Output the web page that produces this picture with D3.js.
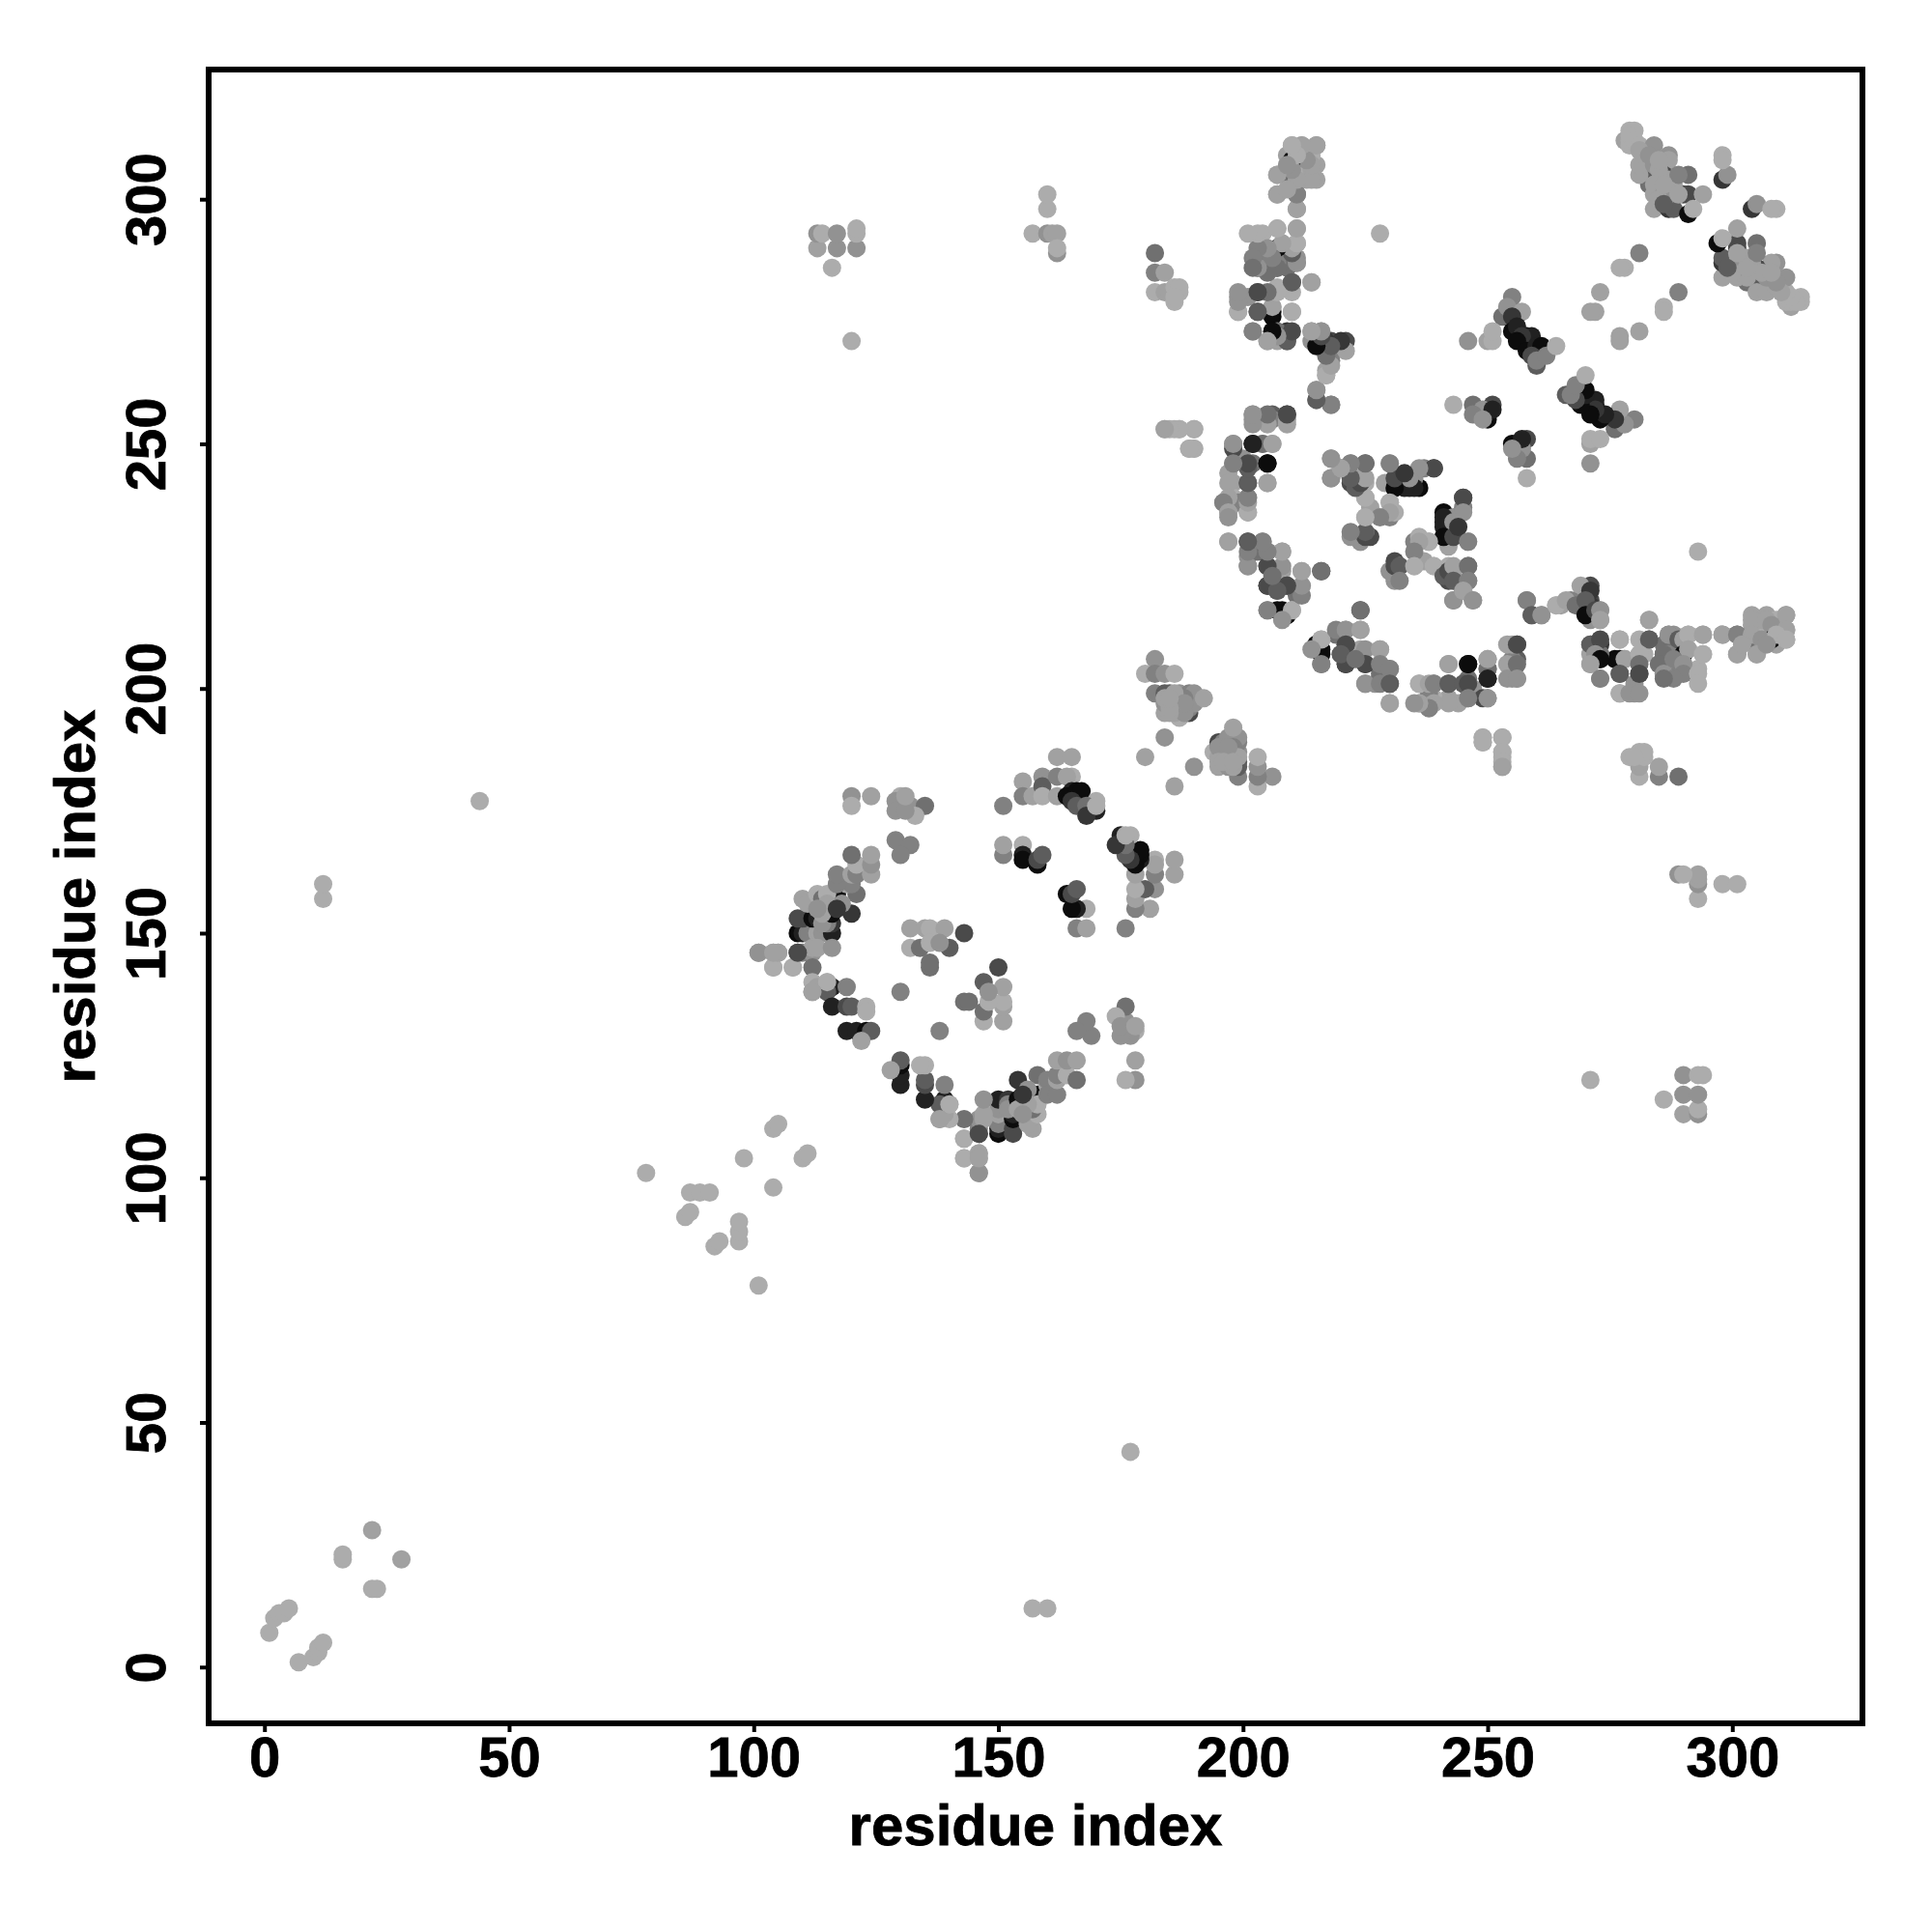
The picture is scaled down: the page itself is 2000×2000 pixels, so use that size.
<!DOCTYPE html>
<html>
<head>
<meta charset="utf-8">
<script src="https://cdn.jsdelivr.net/npm/d3@7"></script>
<style>
html,body{margin:0;padding:0;background:#fff}
svg{display:block}
text{font-family:"Liberation Sans",Arial,sans-serif;font-weight:700;fill:#000;stroke:#000;stroke-width:0.8px}
</style>
</head>
<body>
<svg id="chart" width="2000" height="2000"></svg>
<script>
// Each contact: [residue i, residue j, shade level 0 (light) .. 9 (near black)]. The map is symmetric.
const xTickValues = [0, 50, 100, 150, 200, 250, 300];
const yTickValues = [0, 50, 100, 150, 200, 250, 300];
const axisTitle = "residue index";

const contactsSparse = [[1,7,0],[2,10,0],[3,11,0],[4,11,0],[5,12,0],[16,22,0],[16,23,0],[22,28,1],[12,157,0],[12,160,0],[44,177,0],[78,101,0],[86,92,0],[87,93,0],[87,97,0],[89,97,0],[91,97,0],[98,104,0],[104,110,0],[105,111,0],[113,290,1],[113,293,2],[114,293,0],[116,286,0],[117,290,2],[117,293,2],[120,271,0],[121,290,2],[121,293,0],[121,294,0],[157,293,0],[160,298,0],[160,301,0],[160,293,2],[161,293,1],[162,293,1],[162,289,2],[162,290,0],[228,293,0]];

const contactsArcA = [[101,146,2],[104,146,1],[105,146,1],[104,143,0],[108,143,0],[109,146,6],[110,146,3],[112,146,2],[109,150,9],[110,150,8],[112,150,9],[111,150,3],[113,150,1],[114,150,2],[116,150,8],[112,147,1],[113,147,1],[116,147,2],[112,143,4],[110,153,6],[109,153,6],[112,153,9],[113,153,8],[116,152,7],[115,152,3],[114,152,2],[116,154,9],[120,154,7],[114,154,1],[110,157,1],[111,156,1],[113,158,0],[114,157,4],[117,157,9],[117,158,9],[121,158,4],[115,158,0],[118,156,2],[119,160,1],[120,160,3],[117,160,3],[117,162,3],[120,162,1],[121,162,3],[124,162,1],[121,164,0],[124,164,2],[120,166,4],[124,166,1],[115,156,1],[113,155,2],[117,155,7],[112,140,0],[115,140,0],[112,138,2],[113,139,1],[116,139,8],[119,139,3],[115,138,5],[116,135,8],[119,135,6],[120,135,5],[123,135,0],[123,134,0],[119,130,8],[121,130,8],[123,130,9],[124,130,5],[122,128,1],[143,104,0],[146,105,1],[146,101,2],[146,104,1],[143,108,0],[146,109,6],[140,115,0],[138,112,1]];

const contactsCenterA = [[120,178,2],[120,176,0],[124,178,1],[130,178,0],[129,177,2],[129,175,2],[132,176,2],[135,176,4],[133,174,0],[131,175,2],[131,178,1],[129,169,3],[132,168,3],[130,166,3],[132,151,1],[135,151,1],[136,151,0],[139,151,1],[143,150,6],[132,147,0],[134,147,4],[136,148,0],[140,147,5],[138,148,2],[136,143,4],[136,144,4],[130,138,3]];

const contactsInnerA = [[151,176,3],[155,181,1],[155,178,3],[157,178,1],[159,182,2],[159,180,5],[159,178,0],[162,186,1],[165,186,1],[162,182,3],[162,178,1],[165,182,0],[164,182,1],[165,179,8],[164,178,9],[166,179,9],[167,179,9],[165,177,7],[168,175,9],[170,177,0],[166,176,5],[168,176,4],[170,175,8],[168,174,7],[170,176,0],[151,166,3],[151,168,1],[155,168,0],[155,166,8],[155,165,9],[158,164,9],[158,165,6],[159,166,5]];

const contactsDiagB = [[182,206,2],[180,203,0],[182,203,3],[184,203,2],[186,203,0],[182,199,3],[184,199,5],[185,199,5],[187,199,2],[189,199,3],[190,199,2],[184,195,1],[187,194,0],[189,195,6],[189,196,3],[190,197,2],[192,198,1],[186,197,1],[184,197,2],[188,198,3],[180,186,1],[184,190,2],[185,197,1],[186,195,1],[187,196,1],[188,195,2],[186,199,1],[188,197,2],[185,195,1],[185,196,1],[184,198,1],[185,198,1]];

const contactsColumnC = [[207,305,1],[207,301,1],[211,301,4],[211,298,2],[209,305,5],[209,306,2],[210,311,1],[212,311,1],[215,311,2],[215,307,1],[215,304,1],[211,308,1],[213,308,0],[211,304,2],[213,304,1],[209,309,1],[210,308,0],[212,306,0],[212,309,1],[210,305,1],[214,309,0],[214,306,1],[204,293,0],[207,294,0],[211,294,1],[211,291,0],[203,289,2],[205,289,3],[207,290,7],[209,289,1],[211,288,2],[203,286,5],[205,286,2],[207,286,4],[209,286,4],[207,287,3],[211,287,3],[214,283,0],[210,283,4],[207,282,0],[199,280,2],[203,281,4],[201,280,2],[199,277,1],[203,277,4],[206,276,9],[206,278,1],[210,277,1],[202,273,2],[206,273,9],[209,273,7],[207,273,4],[205,271,1],[209,271,3],[207,271,1],[214,273,2],[216,273,1],[218,271,6],[221,271,6],[214,271,2],[216,270,7],[219,270,8],[218,269,3],[221,269,1],[218,267,3],[217,265,1],[217,264,0],[215,261,2],[215,259,3],[218,258,3],[202,256,2],[206,256,5],[209,256,6],[202,255,2],[206,255,3],[209,255,1]];

const contactsCornerD = [[278,312,1],[279,314,0],[280,314,0],[279,311,0],[279,312,0],[279,313,0],[280,312,0],[281,311,0],[282,308,0],[284,311,2],[283,307,8],[283,305,6],[283,303,4],[284,305,5],[287,309,2],[287,308,1],[284,301,1],[284,298,1],[287,298,7],[288,298,5],[291,305,4],[286,305,6],[287,304,1],[287,301,0],[290,301,6],[291,301,6],[294,301,1],[291,297,9],[292,298,0],[281,305,1],[281,307,1],[282,309,1],[284,307,2],[285,306,1],[284,303,1],[286,301,2],[285,300,1],[288,303,1],[289,305,3],[286,303,1],[281,310,1],[283,309,2],[285,308,1],[286,299,5],[289,301,1],[298,304,7],[299,305,2],[298,309,0],[298,308,0],[281,289,3],[278,286,0],[277,286,0],[273,281,1],[272,277,1],[271,277,1]];

const contactsSheetE = [[255,280,3],[253,276,4],[254,278,2],[257,277,1],[246,271,2],[250,271,1],[251,271,0],[251,273,0],[255,276,7],[255,273,9],[256,274,8],[258,272,9],[259,272,8],[257,272,7],[256,271,9],[258,269,9],[260,270,8],[261,270,9],[259,268,6],[260,266,5],[260,267,3],[262,268,3],[264,270,0],[243,258,0],[247,258,4],[251,258,6],[249,257,2],[247,256,3],[250,255,9],[251,257,8],[249,255,2]];

const contactsLoopF = [[184,253,0],[186,253,0],[187,253,0],[190,253,1],[189,249,0],[190,249,0],[198,250,2],[202,250,8],[204,250,2],[206,250,1],[198,246,2],[202,246,4],[205,246,9],[200,247,2],[198,242,1],[197,244,1],[201,242,5],[205,242,1],[196,238,2],[198,239,0],[201,239,2],[199,238,3],[201,236,0],[197,236,1],[218,247,2],[218,243,3],[222,246,2],[225,246,5],[222,242,6],[220,245,3],[224,243,1],[225,242,0],[230,246,1],[231,241,7],[232,242,9],[234,241,8],[236,241,9],[235,243,2],[237,245,3],[239,245,6],[229,242,1],[225,239,0],[225,235,0],[226,237,1],[230,238,1],[230,235,3],[231,236,0],[222,231,2],[226,231,6],[224,230,1],[225,232,1],[245,239,6],[245,236,2],[241,235,8],[241,233,8],[243,234,2],[241,231,9],[243,231,6],[244,233,7],[246,230,3],[238,230,0],[236,230,1],[235,228,3]];

const contactsLoopG = [[197,230,1],[201,230,6],[204,230,2],[201,227,2],[208,228,1],[203,228,4],[205,225,6],[201,225,3],[208,224,1],[212,224,1],[216,224,6],[205,221,8],[209,221,6],[212,221,1],[207,220,4],[211,219,4],[230,224,2],[231,225,6],[232,225,5],[235,225,0],[239,225,0],[232,222,3],[241,223,5],[242,224,6],[243,225,1],[246,225,4],[243,222,5],[246,222,3],[243,218,2],[245,220,1],[247,218,2]];

const contactsLoopH = [[205,216,3],[208,216,9],[209,215,8],[210,216,0],[224,216,4],[215,209,9],[216,207,9],[216,210,0],[216,205,3],[214,208,2],[219,212,3],[221,212,2],[224,212,1],[221,209,6],[221,205,6],[220,207,5],[225,208,2],[228,208,1],[225,205,6],[223,206,4],[228,205,3],[230,204,3],[225,201,2],[228,201,3],[230,201,5],[230,197,1],[236,201,0],[238,201,1],[239,201,3],[242,201,5],[245,201,5],[246,201,6],[242,205,1],[246,205,9],[250,204,4],[250,206,1],[250,202,8],[249,198,6],[250,198,2],[246,198,3],[242,197,1],[239,197,1],[238,196,3],[236,197,1],[235,197,2],[254,209,1],[254,205,1],[254,202,2],[256,209,6],[256,205,4],[256,202,2],[249,190,0],[253,190,0],[249,189,0],[253,187,0],[253,185,0],[253,184,1]];

const contactsTailI = [[258,218,3],[259,215,5],[261,215,2],[264,217,0],[266,218,1],[268,217,4],[271,220,7],[271,217,7],[270,218,5],[270,215,9],[272,216,6],[273,216,2],[273,214,1],[271,209,5],[273,210,6],[272,207,2],[277,210,0],[281,210,0],[283,210,5],[283,214,1],[287,211,2],[289,210,5],[290,210,1],[291,211,0],[294,211,1],[298,211,1],[301,211,3],[273,206,9],[271,205,1],[277,206,9],[278,206,1],[281,207,0],[281,205,4],[290,207,9],[286,207,4],[285,205,4],[291,208,1],[294,207,0],[288,206,3],[290,205,2],[277,203,5],[281,203,6],[286,203,2],[290,203,3],[288,202,3],[293,203,0],[273,202,3],[277,199,0],[279,199,2],[281,199,2],[286,202,4],[293,201,0],[304,214,1],[307,214,1],[311,215,1],[308,213,2],[304,210,4],[308,210,9],[304,211,1],[311,212,1],[306,210,2],[309,211,0],[311,210,0],[301,207,1],[305,207,1],[302,209,1],[307,209,2],[182,289,4],[182,285,3],[184,285,1],[182,281,0],[184,281,1],[185,281,1],[186,282,0],[186,279,0],[187,281,0],[187,282,0],[186,280,0]];

const contacts = [].concat(contactsSparse, contactsArcA, contactsCenterA, contactsInnerA, contactsDiagB, contactsColumnC, contactsCornerD, contactsSheetE, contactsLoopF, contactsLoopG, contactsLoopH, contactsTailI);

const left = 216, right = 1928, top_ = 72, bottom = 1784;
const svg = d3.select("#chart");

const x = d3.scaleLinear().domain([-11.4, 326.6]).range([left, right]);
const y = d3.scaleLinear().domain([-11.5, 326.5]).range([bottom, top_]);
const shade = d3.scalePow().exponent(1.2).domain([0, 9]).range([172, 12]);

const points = contacts.flatMap(([i, j, l]) => [{a: i, b: j, l}, {a: j, b: i, l}]);

svg.append("g").selectAll("circle").data(points).join("circle")
  .attr("cx", d => x(d.a))
  .attr("cy", d => y(d.b))
  .attr("r", 9.5)
  .attr("fill", d => { const g = Math.round(shade(d.l)); return `rgb(${g},${g},${g})`; });

const xAxis = d3.axisBottom(x).tickValues(xTickValues).tickSize(9).tickSizeOuter(0).tickFormat(d3.format("d"));
const gx = svg.append("g").attr("transform", `translate(0,${bottom})`).call(xAxis);
gx.select(".domain").remove();
gx.selectAll("line").attr("stroke", "#000").attr("stroke-width", 4);
gx.selectAll("text").attr("y", 55).attr("dy", 0).attr("font-size", 58);

const yAxis = d3.axisLeft(y).tickValues(yTickValues).tickSize(9).tickSizeOuter(0).tickFormat(d3.format("d"));
const gy = svg.append("g").attr("transform", `translate(${left},0)`).call(yAxis);
gy.select(".domain").remove();
gy.selectAll("line").attr("stroke", "#000").attr("stroke-width", 4);
gy.selectAll("text")
  .attr("x", 0).attr("dy", 0)
  .attr("text-anchor", "middle")
  .attr("font-size", 58)
  .attr("transform", "translate(-45,0) rotate(-90)");

svg.append("rect")
  .attr("x", left).attr("y", top_)
  .attr("width", right - left).attr("height", bottom - top_)
  .attr("fill", "none").attr("stroke", "#000").attr("stroke-width", 6);

svg.append("text").attr("x", (left + right) / 2).attr("y", 1910)
  .attr("text-anchor", "middle").attr("font-size", 60).text(axisTitle);
svg.append("text").attr("transform", `translate(98,${(top_ + bottom) / 2}) rotate(-90)`)
  .attr("text-anchor", "middle").attr("font-size", 60).text(axisTitle);
</script>
</body>
</html>
